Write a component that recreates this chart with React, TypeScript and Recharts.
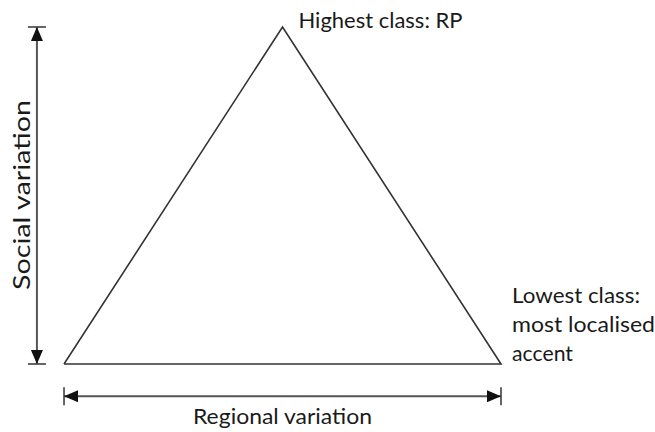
import { ComposedChart, Line, ReferenceDot, XAxis, YAxis } from 'recharts';

// Triangle of accents: regional spread (x) against social class (y), both 0..1
const trianglePoints = [
  { regional: 0, social: 0 },
  { regional: 0.5, social: 1 },
  { regional: 1, social: 0 },
  { regional: 0, social: 0 },
];
const socialArrow = [
  { regional: -0.062, social: 1 },
  { regional: -0.062, social: 0 },
];
const regionalArrow = [
  { regional: 0, social: -0.096 },
  { regional: 1, social: -0.096 },
];

const topLabel = 'Highest class: RP';
const bottomLabelLines = ['Lowest class:', 'most localised', 'accent'];
const xAxisTitle = 'Regional variation';
const yAxisTitle = 'Social variation';

const topLabelWidth = 164;
const bottomLabelWidths = [128, 143, 61];
const xAxisTitleWidth = 179;
const yAxisTitleWidth = 190;

const W = 655;
const H = 432;
const FONT = 'Lato, "Open Sans", sans-serif';
const INK = '#1a1a1a';

const center = (props: any) => {
  const vb = props.viewBox ?? {};
  return { cx: (vb.x ?? 0) + (vb.width ?? 0) / 2, cy: (vb.y ?? 0) + (vb.height ?? 0) / 2 };
};

const textStyle = { fontFamily: FONT, fontSize: 22, fill: INK };

export default function App() {
  return (
    <div style={{ position: 'absolute', left: 0, top: 0, background: '#fff' }}>
      <ComposedChart width={W} height={H} margin={{ top: 0, right: 0, bottom: 0, left: 0 }}>
        <defs>
          <marker
            id="capArrow"
            viewBox="-16 -10 18 20"
            refX={0}
            refY={0}
            markerWidth={18}
            markerHeight={20}
            markerUnits="userSpaceOnUse"
            orient="auto-start-reverse"
          >
            <polygon points="0,0 -14,-6 -14,6" fill="#111" />
            <line x1={0} y1={-9} x2={0} y2={9} stroke="#333" strokeWidth={1.5} />
          </marker>
        </defs>
        <XAxis dataKey="regional" type="number" domain={[-0.1465, 1.3524]} hide allowDataOverflow />
        <YAxis dataKey="social" type="number" domain={[-0.2018, 1.0801]} hide allowDataOverflow />
        <Line
          data={trianglePoints}
          dataKey="social"
          type="linear"
          stroke="#333"
          strokeWidth={1.6}
          strokeLinejoin="miter"
          dot={false}
          activeDot={false}
          isAnimationActive={false}
        />
        <Line
          data={socialArrow}
          dataKey="social"
          type="linear"
          stroke="#555"
          strokeWidth={2}
          markerStart="url(#capArrow)"
          markerEnd="url(#capArrow)"
          dot={false}
          activeDot={false}
          isAnimationActive={false}
        />
        <Line
          data={regionalArrow}
          dataKey="social"
          type="linear"
          stroke="#555"
          strokeWidth={2}
          markerStart="url(#capArrow)"
          markerEnd="url(#capArrow)"
          dot={false}
          activeDot={false}
          isAnimationActive={false}
        />
        <ReferenceDot
          x={0.5}
          y={1}
          r={1}
          fill="none"
          stroke="none"
          ifOverflow="visible"
          label={{
            content: (p: any) => {
              const { cx, cy } = center(p);
              return (
                <text
                  x={cx + 16}
                  y={cy + 1}
                  textLength={topLabelWidth}
                  lengthAdjust="spacingAndGlyphs"
                  style={textStyle}
                >
                  {topLabel}
                </text>
              );
            },
          }}
        />
        <ReferenceDot
          x={1}
          y={0}
          r={1}
          fill="none"
          stroke="none"
          ifOverflow="visible"
          label={{
            content: (p: any) => {
              const { cx, cy } = center(p);
              return (
                <g>
                  {bottomLabelLines.map((line, i) => (
                    <text
                      key={line}
                      x={cx + 11}
                      y={cy - 61 + i * 29}
                      textLength={bottomLabelWidths[i]}
                      lengthAdjust="spacingAndGlyphs"
                      style={textStyle}
                    >
                      {line}
                    </text>
                  ))}
                </g>
              );
            },
          }}
        />
        <ReferenceDot
          x={0.5}
          y={-0.096}
          r={1}
          fill="none"
          stroke="none"
          ifOverflow="visible"
          label={{
            content: (p: any) => {
              const { cx, cy } = center(p);
              return (
                <text
                  x={cx - xAxisTitleWidth / 2}
                  y={cy + 27.5}
                  textLength={xAxisTitleWidth}
                  lengthAdjust="spacingAndGlyphs"
                  style={textStyle}
                >
                  {xAxisTitle}
                </text>
              );
            },
          }}
        />
        <ReferenceDot
          x={-0.062}
          y={0.5}
          r={1}
          fill="none"
          stroke="none"
          ifOverflow="visible"
          label={{
            content: (p: any) => {
              const { cx } = center(p);
              const bx = cx - 7;
              const by = 195;
              return (
                <text
                  x={bx - yAxisTitleWidth / 2}
                  y={by}
                  textLength={yAxisTitleWidth}
                  lengthAdjust="spacingAndGlyphs"
                  transform={`rotate(-90, ${bx}, ${by})`}
                  style={{ ...textStyle, fontSize: 23 }}
                >
                  {yAxisTitle}
                </text>
              );
            },
          }}
        />
      </ComposedChart>
    </div>
  );
}
